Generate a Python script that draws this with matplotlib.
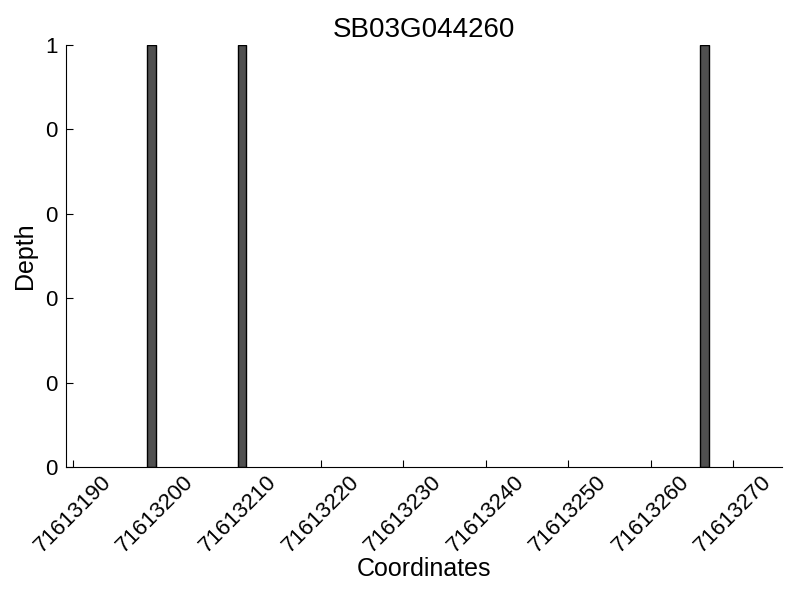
import matplotlib
matplotlib.use("Agg")
import matplotlib.pyplot as plt
from matplotlib.ticker import FormatStrFormatter

plt.rcParams['font.family'] = ['Liberation Sans', 'DejaVu Sans']

title = "SB03G044260"
positions = [71613199, 71613210, 71613266]
depths = [1, 1, 1]
xticks = [71613190, 71613200, 71613210, 71613220, 71613230, 71613240, 71613250, 71613260, 71613270]

fig = plt.figure(figsize=(8, 6), dpi=100)
ax = fig.add_axes([0.0825, 0.2217, 0.895, 0.7033])
ax.bar(positions, depths, width=1, align='edge', color='#505050', edgecolor='black', linewidth=1)
ax.set_xlim(71613189.15, 71613275.9)
ax.set_ylim(0, 1)
ax.set_xticks(xticks)
ax.set_xticklabels([str(t) for t in xticks], rotation=45, fontsize=16)
ax.set_yticks([0, 0.2, 0.4, 0.6, 0.8, 1.0])
ax.yaxis.set_major_formatter(FormatStrFormatter('%d'))
ax.tick_params(axis='both', direction='in', labelsize=16, length=5)
ax.tick_params(axis='y', pad=6)
ax.spines['top'].set_visible(False)
ax.spines['right'].set_visible(False)
ax.set_xlabel("Coordinates", fontsize=18, labelpad=0)
ax.set_ylabel("Depth", fontsize=18, labelpad=6)
ax.set_title(title, fontsize=20)
fig.savefig("out.png", dpi=100)
